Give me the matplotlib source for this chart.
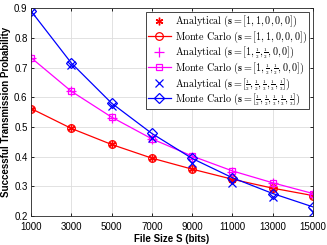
import matplotlib
matplotlib.use('Agg')
import matplotlib.pyplot as plt

file_size = [1000, 3000, 5000, 7000, 9000, 11000, 13000, 15000]
ana_s1 = [0.562, 0.495, 0.441, 0.395, 0.357, 0.322, 0.292, 0.267]
mc_s1 = [0.562, 0.495, 0.441, 0.395, 0.358, 0.324, 0.294, 0.269]
ana_s2 = [0.731, 0.620, 0.531, 0.458, 0.400, 0.350, 0.310, 0.274]
mc_s2 = [0.733, 0.620, 0.533, 0.460, 0.402, 0.352, 0.312, 0.276]
ana_s3 = [0.888, 0.710, 0.572, 0.463, 0.379, 0.313, 0.263, 0.215]
mc_s3 = [0.890, 0.715, 0.580, 0.478, 0.394, 0.329, 0.276, 0.231]

H = r'\genfrac{}{}{0.5}{2}{1}{2}'
T = r'\genfrac{}{}{0.5}{2}{1}{3}'
labels = [
    r'$\mathrm{Analytical}\ (\mathbf{s}=[1,1,0,0,0])$',
    r'$\mathrm{Monte\ Carlo}\ (\mathbf{s}=[1,1,0,0,0])$',
    r'$\mathrm{Analytical}\ (\mathbf{s}=[1,' + H + ',' + H + r',0,0])$',
    r'$\mathrm{Monte\ Carlo}\ (\mathbf{s}=[1,' + H + ',' + H + r',0,0])$',
    r'$\mathrm{Analytical}\ (\mathbf{s}=[' + H + ',' + H + ',' + T + ',' + T + ',' + T + r'])$',
    r'$\mathrm{Monte\ Carlo}\ (\mathbf{s}=[' + H + ',' + H + ',' + T + ',' + T + ',' + T + r'])$',
]

plt.rcParams['mathtext.fontset'] = 'cm'
plt.rcParams['font.family'] = ['Liberation Sans', 'DejaVu Sans']

fig = plt.figure(figsize=(3.27, 2.45), dpi=100)
ax = fig.add_axes([0.095, 0.118, 0.862, 0.849])

ms = 5.5
ax.plot(file_size, ana_s1, linestyle='none', marker=(6, 2, 0), color='#ff0000', ms=ms, mew=1.0, label=labels[0])
ax.plot(file_size, mc_s1, '-', marker='o', color='#ff0000', mfc='none', ms=ms, lw=0.9, mew=0.9, label=labels[1])
ax.plot(file_size, ana_s2, linestyle='none', marker='+', color='#ff00ff', ms=ms+1, mew=0.9, label=labels[2])
ax.plot(file_size, mc_s2, '-', marker='s', color='#ff00ff', mfc='none', ms=ms-0.5, lw=0.9, mew=0.9, label=labels[3])
ax.plot(file_size, ana_s3, linestyle='none', marker='x', color='#0000ff', ms=ms, mew=0.9, label=labels[4])
ax.plot(file_size, mc_s3, '-', marker='D', color='#0000ff', mfc='none', ms=ms-0.5, lw=0.9, mew=0.9, label=labels[5])

ax.set_xlim(1000, 15000)
ax.set_ylim(0.2, 0.9)
ax.set_xticks(file_size)
ax.set_yticks([0.2, 0.3, 0.4, 0.5, 0.6, 0.7, 0.8, 0.9])
ax.tick_params(labelsize=7, direction='in', length=2.5, width=0.6, top=True, right=True)
ax.tick_params(axis='x', pad=4)
ax.tick_params(axis='y', pad=2.5)
ax.grid(True, color='#dddddd', lw=0.6)
ax.set_axisbelow(True)
for sp in ax.spines.values():
    sp.set_linewidth(0.6)
    sp.set_color('#262626')
ax.set_xlabel('File Size S (bits)', fontsize=7, fontweight='bold', labelpad=2)
ax.set_ylabel('Successful Transmission Probability', fontsize=7, fontweight='bold', labelpad=2)

leg = ax.legend(loc='upper right', fontsize=7.3, frameon=True, fancybox=False, edgecolor='#262626',
                framealpha=1, borderpad=0.2, labelspacing=0.0, handlelength=2.2, handletextpad=0.4,
                borderaxespad=0.4)
leg.get_frame().set_linewidth(0.6)

fig.savefig('out.png', dpi=100)
